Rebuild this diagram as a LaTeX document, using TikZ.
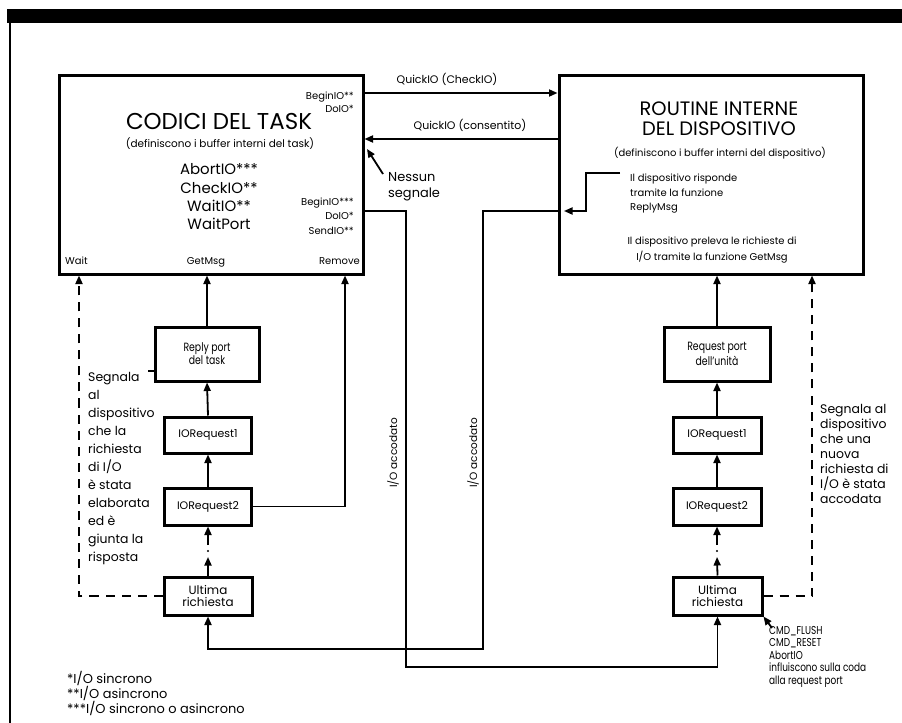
\documentclass[tikz,border=0pt]{standalone}
\usepackage{fontspec}
\setmainfont{Poppins}
\newfontfamily\condfont[FakeStretch=0.78]{Poppins}
\usetikzlibrary{arrows.meta}
\newcommand\fsz[1]{\fontsize{#1}{#1}\selectfont}
\begin{document}
\begin{tikzpicture}[x=1bp,y=-1bp,
  box/.style={draw, line width=3bp, inner sep=0pt, align=center},
  conn/.style={line width=1.8bp},
  tip/.style={-{Triangle[width=7bp,length=8.5bp]}},
  dashline/.style={line width=1.9bp, dash pattern=on 9bp off 7bp},
  lbl/.style={inner sep=0pt},
  mid/.style={lbl, font=\fsz{15}},
  med/.style={lbl, font=\fsz{11}},
  sig/.style={lbl, font=\fsz{12.5}},
  sml/.style={lbl, font=\fsz{10}},
  boxtxt/.style={font=\fsz{11}},
  ulttxt/.style={font=\fsz{12}, align=center},
  condtxt/.style={font=\condfont\fsz{12}},
]
\useasboundingbox (0,0) rectangle (902,723);
% frame
\fill (7,9) rectangle (902,23);
\draw[line width=2bp] (10,23) -- (10,723);

% main boxes
\node[box, minimum width=303bp, minimum height=198bp] (task) at (211.5,175) {};
\node[box, minimum width=304bp, minimum height=198bp] (dev) at (711,175) {};

% left column
\node[box, condtxt, minimum width=104bp, minimum height=54bp] (reply) at (207,354) {Reply port\\[1bp]del task};
\node[box, boxtxt, minimum width=87bp, minimum height=36bp] (iorA) at (208,435) {IORequest1};
\node[box, boxtxt, minimum width=87bp, minimum height=37bp] (iorB) at (208,506.5) {IORequest2};
\node[box, ulttxt, minimum width=88bp, minimum height=38bp] (ultL) at (208,596) {Ultima\\richiesta};

% right column
\node[box, condtxt, minimum width=106bp, minimum height=54bp] (req) at (717,354) {Request port\\[1bp]dell’unità};
\node[box, boxtxt, minimum width=88bp, minimum height=36bp] (iorC) at (717,435) {IORequest1};
\node[box, boxtxt, minimum width=88bp, minimum height=37bp] (iorD) at (717,506.5) {IORequest2};
\node[box, ulttxt, minimum width=89bp, minimum height=38bp] (ultR) at (717.5,596) {Ultima\\richiesta};

% task box texts
\node[lbl, font=\fsz{23}, anchor=base] (tt1) at (219,130) {CODICI DEL TASK};
\node[lbl, font=\fsz{10.5}, anchor=base] (tt2) at (220,148) {(definiscono i buffer interni del task)};
\node[mid, anchor=base] (tf1) at (219,175) {AbortIO***};
\node[mid, anchor=base] (tf2) at (219,193) {CheckIO**};
\node[mid, anchor=base] (tf3) at (219,211) {WaitIO**};
\node[mid, anchor=base] (tf4) at (219,229) {WaitPort};
\node[sml, anchor=base east] (tb1) at (354,100) {BeginIO**};
\node[sml, anchor=base east] (tb2) at (354,113) {DoIO*};
\node[sml, anchor=base east] (tb3) at (354,205) {BeginIO***};
\node[sml, anchor=base east] (tb4) at (354,219) {DoIO*};
\node[sml, anchor=base east] (tb5) at (354,234) {SendIO**};
\node[sml, anchor=base west] (twait) at (65,264) {Wait};
\node[sml, anchor=base] (tget) at (206,264) {GetMsg};
\node[sml, anchor=base east] (trem) at (360,264) {Remove};

% device box texts
\node[lbl, font=\fsz{19.5}, anchor=base] (dt1) at (719,115.5) {ROUTINE INTERNE};
\node[lbl, font=\fsz{19.5}, anchor=base] (dt2) at (719,135.5) {DEL DISPOSITIVO};
\node[sml, anchor=base] (dt3) at (720,157) {(definiscono i buffer interni del dispositivo)};
\node[sml, anchor=base west] (dr1) at (630,181) {Il dispositivo risponde};
\node[sml, anchor=base west] (dr2) at (630,196) {tramite la funzione};
\node[sml, anchor=base west] (dr3) at (630,210) {ReplyMsg};
\node[sml, anchor=base] (dg1) at (712,244) {Il dispositivo preleva le richieste di};
\node[sml, anchor=base] (dg2) at (712,260) {I/O tramite la funzione GetMsg};

% labels between boxes
\node[med, anchor=base] (q1) at (447,84) {QuickIO (CheckIO)};
\node[med, anchor=base] (q2) at (470,130) {QuickIO (consentito)};
\node[lbl, font=\fsz{13}, anchor=base west] (ns1) at (388,181) {Nessun};
\node[lbl, font=\fsz{13}, anchor=base west] (ns2) at (388,197) {segnale};
\node[lbl, font=\fsz{10.5}, rotate=90] (acc1) at (393,453) {I/O accodato};
\node[lbl, font=\fsz{10.5}, rotate=90] (acc2) at (473,453) {I/O accodato};

% side texts
\foreach \t [count=\i] in {Segnala, al, dispositivo, che la, richiesta, di I/O, è stata, elaborata, ed è, giunta la, risposta}
  \node[sig, anchor=base west] (sl\i) at (88,{381+18*(\i-1)}) {\t};
\foreach \t [count=\i] in {Segnala al, dispositivo, che una, nuova, richiesta di, I/O è stata, accodata}
  \node[sig, anchor=base west] (sr\i) at (820,{413+15*(\i-1)}) {\t};
\foreach \t [count=\i] in {CMD\_FLUSH, CMD\_RESET, AbortIO, influiscono sulla coda, alla request port}
  \node[lbl, font=\condfont\fsz{11.5}, anchor=base west] (cmd\i) at (769,{634+12.5*(\i-1)}) {\t};
\foreach \t [count=\i] in {*I/O sincrono, **I/O asincrono, ***I/O sincrono o asincrono}
  \node[lbl, font=\fsz{13}, anchor=base west] (fn\i) at (67,{683+15*(\i-1)}) {\t};

% helper coordinates
\coordinate (c93) at (0,93);
\coordinate (c139) at (0,139);
\coordinate (c211) at (0,211);
\coordinate (c371) at (0,371);
\coordinate (xw) at (79,0);
\coordinate (xr) at (345,0);
\coordinate (xs) at (812,0);
\coordinate (nsA) at (383,174);
\coordinate (nsB) at (367,149);
\coordinate (bA) at (406,667);
\coordinate (bB) at (483,649);
\coordinate (rmA) at (620,173);
\coordinate (rmB) at (586,211);
\coordinate (rmC) at (564,211);
\coordinate (cmdA) at (772,628);
\coordinate (dL1) at (208,557);
\coordinate (dL2) at (208,545);
\coordinate (dR1) at (717,557);
\coordinate (dR2) at (717,545);

% connectors between main boxes
\draw[conn,tip] (task.east|-c93) -- (dev.west|-c93);
\draw[conn,tip] (dev.west|-c139) -- (task.east|-c139);
\draw[conn,tip] (nsA) -- (nsB);
\draw[conn,tip] (task.east|-c211) -| (bA) -| (ultR.south);
\draw[conn,tip] (rmA) -| (rmB) -- (rmC);
\draw[conn,tip] (dev.west|-rmB) -| (bB) -| (ultL.south);

% left column
\draw[conn,tip] (reply.north) -- (reply.north|-task.south);
\draw[conn,tip] (iorA.north) -- (reply.south);
\draw[conn,tip] (iorB.north) -- (iorA.south);
\draw[conn,tip] (ultL.north) -- (dL1);
\fill (208,551) circle (1.1bp);
\draw[conn,tip] (dL2) -- (iorB.south);
\draw[conn,tip] (iorB.east) -| (task.south-|xr);
\draw[dashline,tip] (ultL.west) -| (task.south-|xw);
\draw[conn] (reply.west|-c371) -- ++(-6,0);

% right column
\draw[conn,tip] (req.north) -- (req.north|-dev.south);
\draw[conn,tip] (iorC.north) -- (req.south);
\draw[conn,tip] (iorD.north) -- (iorC.south);
\draw[conn,tip] (ultR.north) -- (dR1);
\fill (717,551) circle (1.1bp);
\draw[conn,tip] (dR2) -- (iorD.south);
\draw[dashline,tip] (ultR.east) -| (dev.south-|xs);
\draw[conn,tip] (cmdA) -- (ultR.south east);
\end{tikzpicture}
\end{document}
